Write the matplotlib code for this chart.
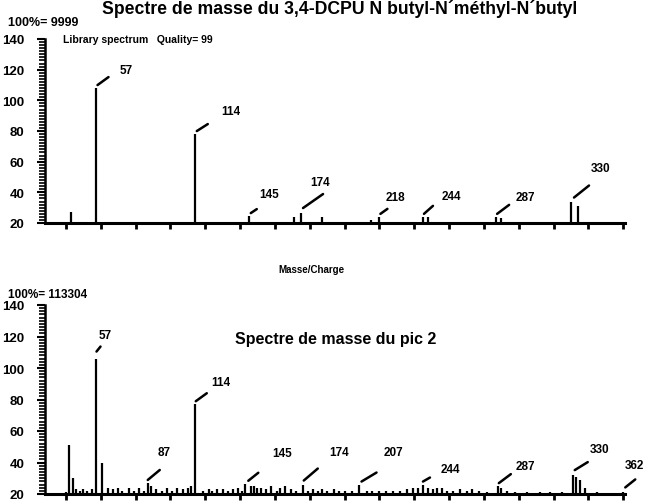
import matplotlib
matplotlib.use("Agg")
import matplotlib.pyplot as plt
from matplotlib.ticker import MultipleLocator, NullFormatter
from matplotlib.transforms import offset_copy

plt.rcParams['font.family'] = ['Liberation Sans', 'DejaVu Sans']
plt.rcParams['font.weight'] = 'bold'

# Spectre de bibliothèque (haut)
lib_mz = [43, 57, 114, 145, 171, 175, 187, 215, 220, 245, 248, 287, 290, 330, 334]
lib_int = [27, 108, 78, 24.5, 24, 26.5, 24, 22, 24, 24, 24, 24, 23.5, 34, 31]
lib_lab_mz = [57, 114, 145, 175, 220, 245, 287, 330]
lib_lab_txt = ['57', '114', '145', '174', '218', '244', '287', '330']

# Spectre du pic 2 (bas)
pic_mz = [40, 42, 44, 46, 48, 50, 52, 55, 57, 61, 64, 67, 70, 72, 76, 79, 82, 85,
          87, 89, 92, 95, 98, 101, 104, 107, 110, 112, 114, 119, 122, 124, 127,
          130, 133, 136, 139, 141, 143, 146, 148, 150, 152, 155, 158, 161, 163,
          166, 169, 172, 176, 179, 182, 185, 187, 190, 194, 197, 200, 204, 208,
          213, 216, 220, 224, 228, 232, 236, 239, 242, 245, 248, 251, 253, 256,
          259, 262, 266, 270, 273, 277, 282, 288, 290, 293, 298, 305, 312, 318,
          325, 331, 333, 335, 338, 345, 360]
pic_int = [21, 51, 30, 23, 22, 23, 22, 23, 106, 40, 24, 23, 24, 22, 24, 22, 24, 22,
           27, 25, 23, 22, 24, 22, 24, 23, 24, 25, 77, 22, 23, 22, 23,
           23, 22, 23, 24, 22, 26.5, 25, 25, 24, 24, 23, 25, 22, 24,
           25, 23, 22, 26, 22, 23, 22, 23, 22, 23, 22, 22, 22, 26,
           22, 22, 22, 22, 22, 22, 23, 24, 24, 26, 24, 23, 24, 24,
           22, 22, 23, 22, 23, 22, 21, 25, 24, 22, 21, 21, 21, 21,
           21, 32, 31, 29, 24, 21, 21]
pic_lab_mz = [57, 114, 87, 143, 176, 208, 245, 288, 331, 360]
pic_lab_txt = ['57', '114', '87', '145', '174', '207', '244', '287', '330', '362']

# décalages (pixels) : début du trait, fin du trait, texte
lib_layout = [((2, 3), (13, 11), (31, 18)), ((2, 3), (13, 10), (36, 23)),
              ((2, 3), (8, 7), (20, 22)), ((2, 5), (22, 19), (19, 31)),
              ((1, 3), (8, 8), (16, 20)), ((1, 3), (10, 11), (28, 21)),
              ((1, 3), (13, 12), (29, 20)), ((3, 4), (18, 16), (30, 34))]
pic_layout = [((1, 7), (5, 12), (10, 24)), ((1, 3), (12, 11), (26, 22)),
              ((0, 3), (12, 13), (16, 31)), ((3, 3), (13, 11), (37, 31)),
              ((1, 4), (15, 16), (36, 33)), ((3, 3), (18, 12), (35, 33)),
              ((0, 3), (7, 7), (27, 16)), ((1, 3), (13, 12), (28, 20)),
              ((2, 5), (15, 13), (27, 26)), ((2, 5), (12, 13), (2, 27))]

fig = plt.figure(figsize=(6.47, 5.02), dpi=100)
ax1 = fig.add_axes([45 / 647, 1 - 224 / 502, 580 / 647, 184 / 502])
ax2 = fig.add_axes([45 / 647, 1 - 495 / 502, 580 / 647, 189 / 502])


def trace(ax, mz, inten, lab_mz, lab_txt, layout):
    ax.vlines(mz, 20, inten, colors='black', linewidth=1.6)
    for m, t, (s, e, tx) in zip(lab_mz, lab_txt, layout):
        h = inten[mz.index(m)]
        tr = offset_copy(ax.transData, fig=fig, x=s[0], y=s[1], units='dots')
        ax.annotate('', xy=(m, h), xycoords=tr,
                    xytext=(e[0] - s[0], e[1] - s[1]), textcoords='offset pixels',
                    arrowprops=dict(arrowstyle='-', lw=1.8, color='black',
                                    shrinkA=0, shrinkB=0))
        ha = 'left' if t == '362' else 'center'
        ax.annotate(t, xy=(m, h), xytext=tx, textcoords='offset pixels',
                    ha=ha, va='center', fontsize=8.5, fontweight='bold',
                    annotation_clip=False)
    ax.set_xlim(28, 361)
    ax.set_ylim(20, 140)
    ax.spines['top'].set_visible(False)
    ax.spines['right'].set_visible(False)
    ax.spines['left'].set_linewidth(1.8)
    ax.spines['bottom'].set_linewidth(2.2)
    ax.xaxis.set_major_locator(MultipleLocator(20))
    ax.xaxis.set_major_formatter(NullFormatter())
    ax.yaxis.set_major_locator(MultipleLocator(20))
    ax.yaxis.set_minor_locator(MultipleLocator(2))
    ax.tick_params(axis='x', direction='out', length=4, width=2)
    ax.tick_params(axis='y', which='major', direction='out', length=6, width=1.5,
                   pad=9, labelsize=9.5)
    ax.tick_params(axis='y', which='minor', direction='out', length=4, width=1.2)
    for lbl in ax.get_yticklabels():
        lbl.set_fontweight('bold')


trace(ax1, lib_mz, lib_int, lib_lab_mz, lib_lab_txt, lib_layout)
trace(ax2, pic_mz, pic_int, pic_lab_mz, pic_lab_txt, pic_layout)

fig.text(340 / 647, 1 - 9 / 502, "Spectre de masse du 3,4-DCPU N butyl-N\u00b4m\u00e9thyl-N\u00b4butyl",
         ha='center', va='center', fontsize=12.7, fontweight='bold')
fig.text(8 / 647, 1 - 23 / 502, "100%= 9999", ha='left', va='center',
         fontsize=9, fontweight='bold')
fig.text(63 / 647, 1 - 40 / 502, "Library spectrum   Quality= 99", ha='left',
         va='center', fontsize=7.5, fontweight='bold')
fig.text(311 / 647, 1 - 270 / 502, "Masse/Charge", ha='center', va='center',
         fontsize=7, fontweight='bold')
fig.text(8 / 647, 1 - 295 / 502, "100%= 113304", ha='left', va='center',
         fontsize=8.5, fontweight='bold')
fig.text(336 / 647, 1 - 340 / 502, "Spectre de masse du pic 2", ha='center',
         va='center', fontsize=11.5, fontweight='bold')

fig.savefig("out.png", dpi=100)
